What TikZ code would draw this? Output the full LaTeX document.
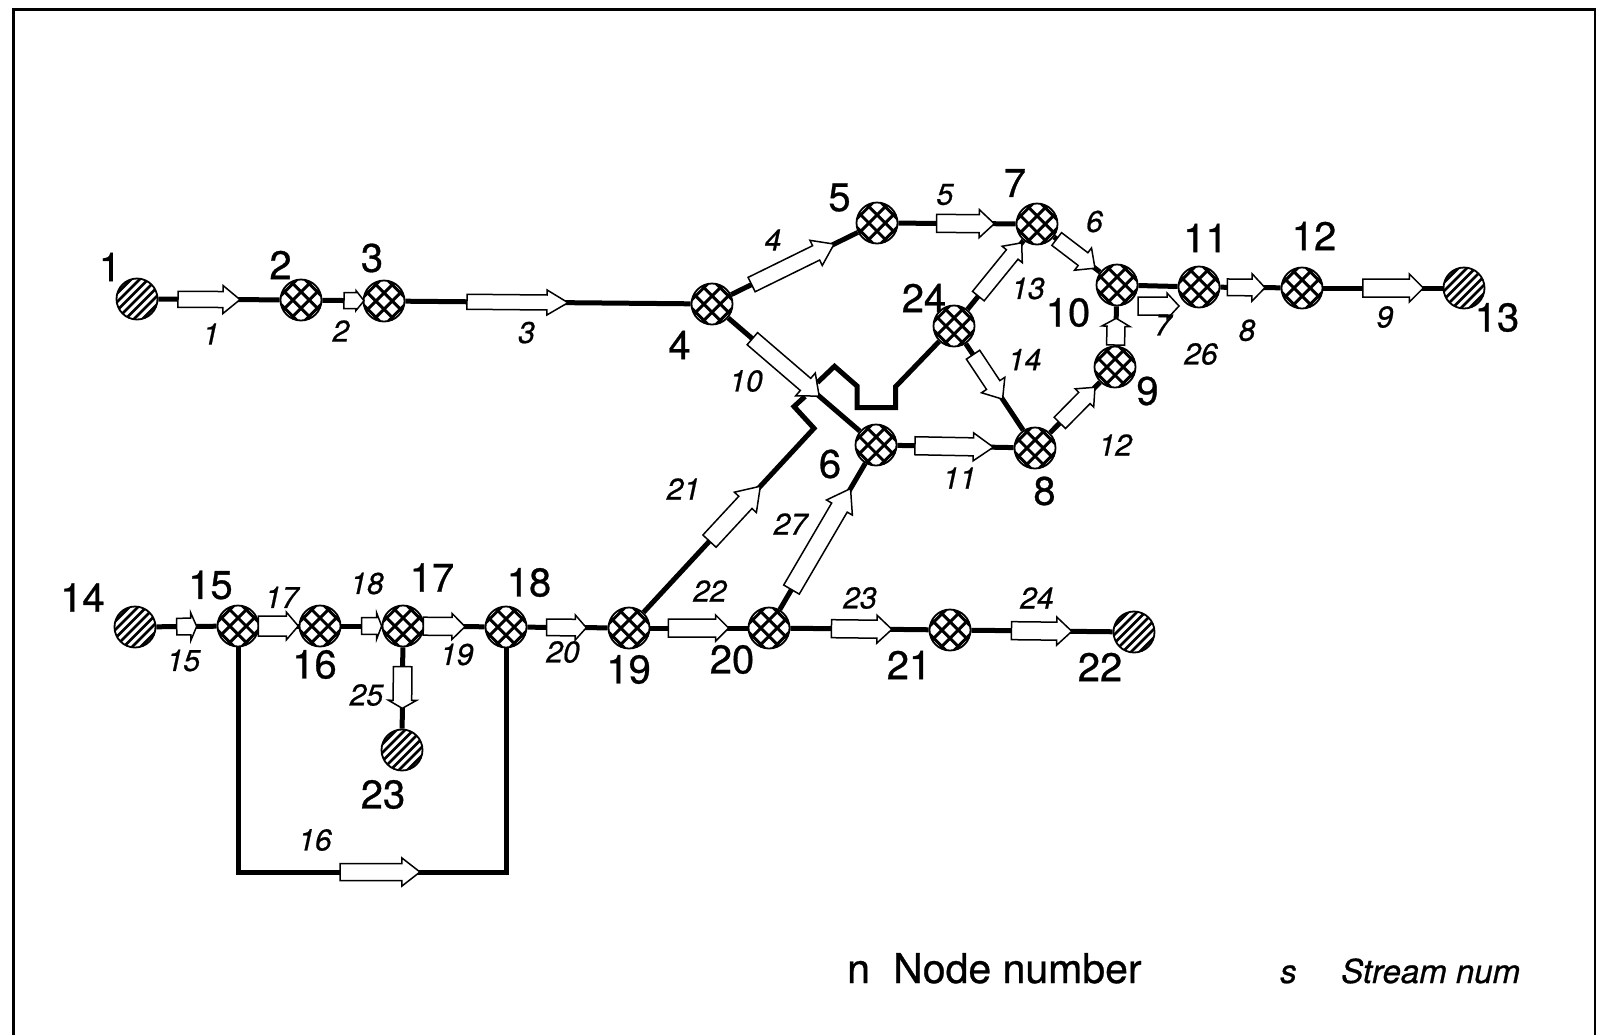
\documentclass[tikz,border=0pt]{standalone}
\usepackage{fontspec}
\setmainfont{TeX Gyre Heros}
\newfontfamily\heavyfont[FakeBold=0.7]{TeX Gyre Heros}
\usetikzlibrary{calc}
% block arrow: #1 start, #2 end, #3 half body width, #4 half head width, #5 head length
\newcommand\blk[5]{%
  \path #1 coordinate (blkA);
  \path #2 coordinate (blkB);
  \pgfpointdiff{\pgfpointanchor{blkA}{center}}{\pgfpointanchor{blkB}{center}}%
  \pgfgetlastxy\blkdx\blkdy
  \pgfmathsetmacro\blkang{atan2(\blkdy,\blkdx)}%
  \pgfmathsetmacro\blklen{veclen(\blkdx,\blkdy)}%
  \pgfmathsetmacro\blkneck{\blklen-#5}%
  \begin{scope}[shift={(blkA)},rotate=\blkang]
    \draw[blkst] (0pt,-#3pt) -- (\blkneck pt,-#3pt) -- (\blkneck pt,-#4pt) -- (\blklen pt,0pt)
      -- (\blkneck pt,#4pt) -- (\blkneck pt,#3pt) -- (0pt,#3pt) -- cycle;
  \end{scope}}
\newcommand\onl[6]{\blk{($(#1)!#3!(#2)$)}{($(#1)!#4!(#2)$)}{#5}{#6}}
\begin{document}
\begin{tikzpicture}[x=1pt,y=-1pt,
  hub/.style={circle, draw, line width=1.8pt, fill=white, minimum size=41pt, inner sep=0pt,
    path picture={\begin{scope}[shift={(path picture bounding box.center)}]
      \foreach \hh in {-17.25,-5.75,5.75,17.25}{
        \draw[line width=3pt] ({\hh*0.7071-21.2},{\hh*0.7071+21.2}) -- ++(42.4,-42.4);
        \draw[line width=3pt] ({\hh*0.7071-21.2},{-\hh*0.7071-21.2}) -- ++(42.4,42.4);}
      \end{scope}}},
  term/.style={circle, draw, line width=1.8pt, fill=white, minimum size=41pt, inner sep=0pt,
    path picture={\begin{scope}[shift={(path picture bounding box.center)}]
      \foreach \hh in {-18,-12,...,18}{
        \draw[line width=2.6pt] ({\hh*0.7071-21.2},{\hh*0.7071+21.2}) -- ++(42.4,-42.4);}
      \end{scope}}},
  conn/.style={line width=5pt},
  blkst/.style={draw=black, fill=white, line width=1.5pt, line join=miter},
  nlab/.style={font=\heavyfont\fontsize{40}{40}\selectfont, inner sep=0pt},
  slab/.style={font=\heavyfont\fontsize{30}{30}\selectfont\itshape, inner sep=0pt},
  leg/.style={font=\heavyfont\fontsize{41}{41}\selectfont, inner sep=0pt, anchor=base west},
  legi/.style={font=\heavyfont\fontsize{33}{33}\selectfont\itshape, inner sep=0pt, anchor=base west}
]
\useasboundingbox (0,0) rectangle (1600,1034);
\fill[white] (0,0) rectangle (1600,1034);
% frame
\draw[line width=2.6pt] (13.5,1045) -- (13.5,9.5) -- (1595,9.5) -- (1595,1045);

% nodes
\node[term] (n1) at (137,299) {};
\node[hub] (n2) at (301,300) {};
\node[hub] (n3) at (384,301) {};
\node[hub] (n4) at (712,304) {};
\node[hub] (n5) at (877,223) {};
\node[hub] (n7) at (1037,224) {};
\node[hub] (n24) at (954,326) {};
\node[hub] (n10) at (1117,285) {};
\node[hub] (n11) at (1199,287) {};
\node[hub] (n12) at (1302,288) {};
\node[term] (n13) at (1464,288) {};
\node[hub] (n9) at (1115,367) {};
\node[hub] (n8) at (1035,448) {};
\node[hub] (n6) at (876,445) {};
\node[term] (n14) at (135,627) {};
\node[hub] (n15) at (238,626) {};
\node[hub] (n16) at (320,626) {};
\node[hub] (n17) at (403,626) {};
\node[hub] (n18) at (506,627) {};
\node[hub] (n19) at (629,628) {};
\node[hub] (n20) at (769,628) {};
\node[hub] (n21) at (950,630) {};
\node[term] (n22) at (1134,632) {};
\node[term] (n23) at (402,750) {};

% corner points
\coordinate (lb1) at (n15 |- 0,872);
\coordinate (lb2) at (n18 |- 0,872);
\coordinate (z1) at (895.5,386.7);
\coordinate (z2) at (895.5,407.5);
\coordinate (z3) at (857,407.5);
\coordinate (z4) at (857,386);
\coordinate (z5) at (834.5,366.3);
\coordinate (z6) at (817.5,382.5);
\coordinate (j1) at (814,428.3);
\coordinate (j2) at (794,406.5);
\coordinate (j3) at (805,396.5);
\coordinate (s7a) at (1138,306);
\coordinate (s7b) at (1179,306);

% connectors
\draw[conn] (n1) -- (n2);
\draw[conn] (n2) -- (n3);
\draw[conn] (n3) -- (n4);
\draw[conn] (n4) -- (n5);
\draw[conn] (n5) -- (n7);
\draw[conn] (n7) -- (n10);
\draw[conn] (n24) -- (n7);
\draw[conn] (n24) -- (n8);
\draw[conn] (n4) -- (n6);
\draw[conn] (n6) -- (n8);
\draw[conn] (n8) -- (n9);
\draw[conn] (n9) -- (n10);
\draw[conn] (n10) -- (n11);
\draw[conn] (n11) -- (n12);
\draw[conn] (n12) -- (n13);
\draw[conn] (n14) -- (n15);
\draw[conn] (n15) -- (n16);
\draw[conn] (n16) -- (n17);
\draw[conn] (n17) -- (n18);
\draw[conn] (n18) -- (n19);
\draw[conn] (n19) -- (n20);
\draw[conn] (n20) -- (n21);
\draw[conn] (n21) -- (n22);
\draw[conn] (n17) -- (n23);
\draw[conn] (n15) -- (lb1) -- (lb2) -- (n18);
\draw[conn] (n20) -- (n6);
\draw[conn] (n19) -- (j1) -- (j2) -- (j3);
\draw[conn] (n24) -- (z1) -- (z2) -- (z3) -- (z4) -- (z5) -- (z6);

% stream arrows
\onl{n1}{n2}{.25}{.628}{8}{14}{17}
\onl{n2}{n3}{.518}{.759}{8}{10}{8}
\onl{n3}{n4}{.253}{.561}{7.5}{12.5}{21}
\onl{n4}{n5}{.24}{.74}{8}{14}{20}
\onl{n5}{n7}{.373}{.733}{9}{14}{15}
\onl{n7}{n10}{.246}{.725}{8}{14}{15}
\onl{n24}{n7}{.293}{.816}{7.5}{13}{15}
\onl{n24}{n8}{.235}{.6}{8}{14}{17}
\onl{n4}{n6}{.246}{.654}{8}{15}{18}
\onl{n6}{n8}{.245}{.738}{9}{14}{20}
\onl{n8}{n9}{.31}{.75}{8}{13}{15}
\onl{n9}{n10}{.268}{.594}{9}{14}{8}
\blk{(s7a)}{(s7b)}{9}{13}{12}
\onl{n11}{n12}{.275}{.641}{8.3}{13.7}{13}
\onl{n12}{n13}{.375}{.749}{9}{14}{14}
\onl{n14}{n15}{.405}{.599}{8.3}{14}{6}
\onl{n15}{n16}{.248}{.735}{10}{14}{12}
\onl{n16}{n17}{.502}{.743}{8.3}{13}{5}
\onl{n17}{n18}{.197}{.602}{9}{13}{13}
\onl{n17}{n23}{.328}{.664}{9.3}{14}{8}
\onl{lb1}{lb2}{.381}{.679}{8.5}{14}{18}
\onl{n18}{n19}{.33}{.653}{8.3}{12.5}{11}
\onl{n19}{n20}{.281}{.712}{9}{13}{13}
\onl{n20}{n21}{.345}{.679}{9}{14}{15}
\onl{n21}{n22}{.334}{.662}{9}{14}{15}
\onl{n20}{n6}{.21}{.762}{9}{15}{22}
\onl{n19}{j1}{.435}{.71}{9}{15}{22}

% node numbers
\node[nlab] (l1) at (110,267) {1};
\node[nlab] (l2) at (280.5,265) {2};
\node[nlab] (l3) at (372,258) {3};
\node[nlab] (l4) at (679.5,345) {4};
\node[nlab] (l5) at (839.5,197.5) {5};
\node[nlab] (l7) at (1015,183) {7};
\node[nlab] (l24) at (924,298) {24};
\node[nlab] (l10) at (1068,312.5) {10};
\node[nlab] (l11) at (1205.5,238) {11};
\node[nlab] (l12) at (1314,236) {12};
\node[nlab] (l13) at (1497,317.5) {13};
\node[nlab] (l9) at (1147.5,391) {9};
\node[nlab] (l8) at (1044.5,491) {8};
\node[nlab] (l6) at (830,464) {6};
\node[nlab] (l14) at (82.5,597.5) {14};
\node[nlab] (l15) at (210.5,585) {15};
\node[nlab] (l16) at (314.5,664.5) {16};
\node[nlab] (l17) at (432,577.5) {17};
\node[nlab] (l18) at (529,582.5) {18};
\node[nlab] (l19) at (628.6,669.5) {19};
\node[nlab] (l20) at (732,659.5) {20};
\node[nlab] (l21) at (909,665) {21};
\node[nlab] (l22) at (1100,667) {22};
\node[nlab] (l23) at (383,794.5) {23};

% stream numbers
\node[slab] (s1) at (211,334) {1};
\node[slab] (s2) at (341,331) {2};
\node[slab] (s3) at (526.5,332.6) {3};
\node[slab] (s4) at (773,240) {4};
\node[slab] (s5) at (945,194.5) {5};
\node[slab] (s6) at (1094.5,221.5) {6};
\node[slab] (s7) at (1163,325) {7};
\node[slab] (s8) at (1247,330.3) {8};
\node[slab] (s9) at (1385,317) {9};
\node[slab] (s10) at (746,381) {10};
\node[slab] (s11) at (959.5,478) {11};
\node[slab] (s12) at (1115.3,445) {12};
\node[slab] (s13) at (1028,288.5) {13};
\node[slab] (s14) at (1024.7,359.6) {14};
\node[slab] (s15) at (183.5,660.5) {15};
\node[slab] (s16) at (315,840) {16};
\node[slab] (s17) at (281.6,597.3) {17};
\node[slab] (s18) at (367,583.5) {18};
\node[slab] (s19) at (456.8,654.5) {19};
\node[slab] (s20) at (563,652) {20};
\node[slab] (s21) at (683.5,489) {21};
\node[slab] (s22) at (710,591) {22};
\node[slab] (s23) at (860,598) {23};
\node[slab] (s24) at (1037,598) {24};
\node[slab] (s25) at (366.5,695) {25};
\node[slab] (s26) at (1201,354) {26};
\node[slab] (s27) at (790.5,524) {27};

% legend
\node[leg] (kn) at (847,983) {n};
\node[leg] (kt) at (893,983) {Node number};
\node[legi] (ks) at (1280,983) {s};
\node[legi] (kst) at (1341,983) {Stream num};
\end{tikzpicture}
\end{document}
